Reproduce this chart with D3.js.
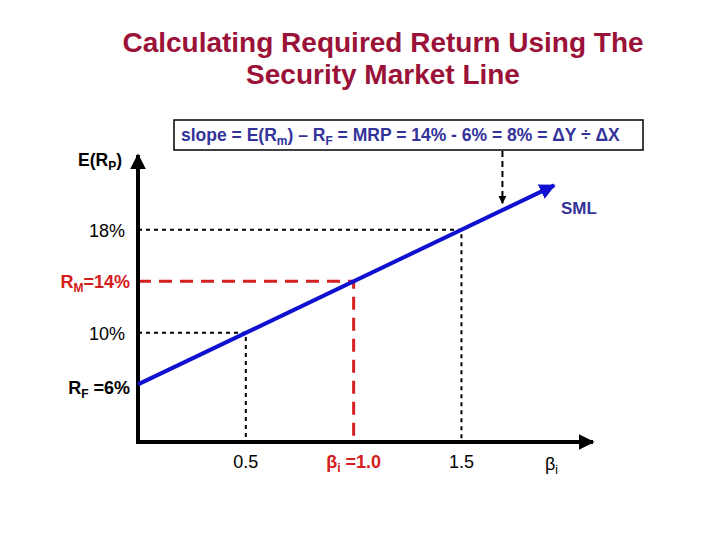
<!DOCTYPE html>
<html>
<head>
<meta charset="utf-8">
<script src="https://cdn.jsdelivr.net/npm/d3@7"></script>
<style>
  body { margin: 0; background: #fff; }
  svg { font-family: Arial, "Liberation Sans", sans-serif; }
</style>
</head>
<body>
<div id="chart"></div>
<script>
// chart values
const titleLines = ["Calculating Required Return Using The", "Security Market Line"];
const riskFree = 6;          // R_F
const marketReturn = 14;     // R_M
const marketPremium = 8;     // slope
const smlBetaRange = [0, 1.93];
const guideBetas = [0.5, 1.5];   // black dotted guides
const guideReturns = [10, 18];
const betaLabels = ["0.5", "1.5"];
const returnLabels = ["10%", "18%"];
const pointerBeta = 1.69;

const width = 720, height = 540;
const svg = d3.select("#chart").append("svg")
    .attr("width", width)
    .attr("height", height);

// scales
const x = d3.scaleLinear().domain([0, 2.11]).range([138, 593]);
const y = d3.scaleLinear().domain([1.53, 23.8]).range([442, 155]);
const sml = b => riskFree + marketPremium * b;

// markers
const defs = svg.append("defs");
function arrow(id, color) {
    defs.append("marker")
        .attr("id", id)
        .attr("viewBox", "0 0 10 10")
        .attr("refX", 9).attr("refY", 5)
        .attr("markerWidth", 4).attr("markerHeight", 4)
        .attr("markerUnits", "strokeWidth")
        .attr("orient", "auto")
        .append("path")
        .attr("d", "M0,0 L10,5 L0,10 z")
        .attr("fill", color);
}
arrow("blk", "#000");
arrow("blu", "#1010d0");
arrow("ptr", "#000");

// title
svg.append("g").selectAll("text")
    .data(titleLines)
    .join("text")
    .attr("x", 383)
    .attr("y", (d, i) => 52 + i * 32)
    .attr("text-anchor", "middle")
    .attr("font-size", 28)
    .attr("font-weight", "bold")
    .attr("fill", "#9b1238")
    .text(d => d);

// black dotted guides
guideBetas.forEach((b, i) => {
    const r = guideReturns[i];
    svg.append("path")
        .attr("d", `M${x(0)},${y(r)} H${x(b)} V${y.range()[0]}`)
        .attr("fill", "none")
        .attr("stroke", "#000")
        .attr("stroke-width", 2)
        .attr("stroke-dasharray", "4,4");
});

// red dashed guide for market portfolio
svg.append("path")
    .attr("d", `M${x(0)},${y(marketReturn)} H${x(1)} V${y.range()[0]}`)
    .attr("fill", "none")
    .attr("stroke", "#d42020")
    .attr("stroke-width", 3)
    .attr("stroke-dasharray", "13,8");

// axes
svg.append("line")
    .attr("x1", x(0)).attr("y1", y.range()[0] + 2)
    .attr("x2", x(0)).attr("y2", y.range()[1])
    .attr("stroke", "#000").attr("stroke-width", 4)
    .attr("marker-end", "url(#blk)");
svg.append("line")
    .attr("x1", x(0) - 2).attr("y1", y.range()[0])
    .attr("x2", x.range()[1]).attr("y2", y.range()[0])
    .attr("stroke", "#000").attr("stroke-width", 4)
    .attr("marker-end", "url(#blk)");

// SML line
svg.append("line")
    .attr("x1", x(smlBetaRange[0])).attr("y1", y(sml(smlBetaRange[0])))
    .attr("x2", x(smlBetaRange[1])).attr("y2", y(sml(smlBetaRange[1])))
    .attr("stroke", "#1010d0").attr("stroke-width", 4)
    .attr("marker-end", "url(#blu)");

// pointer from slope box
svg.append("line")
    .attr("x1", x(pointerBeta)).attr("y1", 151)
    .attr("x2", x(pointerBeta)).attr("y2", y(sml(pointerBeta)) - 7)
    .attr("stroke", "#000").attr("stroke-width", 2)
    .attr("stroke-dasharray", "6,4")
    .attr("marker-end", "url(#ptr)");

// slope box
svg.append("rect")
    .attr("x", 174).attr("y", 120)
    .attr("width", 469).attr("height", 30)
    .attr("fill", "#fff")
    .attr("stroke", "#000").attr("stroke-width", 1.5);
const slope = svg.append("text")
    .attr("x", 181).attr("y", 141)
    .attr("font-size", 17.5).attr("font-weight", "bold")
    .attr("fill", "#33339a");
slope.append("tspan").text("slope = E(R");
slope.append("tspan").attr("font-size", 12).attr("dy", 4).text("m");
slope.append("tspan").attr("dy", -4).text(") – R");
slope.append("tspan").attr("font-size", 12).attr("dy", 4).text("F");
slope.append("tspan").attr("dy", -4).text(" = MRP = 14% - 6% = 8% = ΔY ÷ ΔX");

// SML label
svg.append("text")
    .attr("x", 561).attr("y", 214)
    .attr("font-size", 17).attr("font-weight", "bold")
    .attr("fill", "#33339a")
    .text("SML");

// y labels
const yl = svg.append("text")
    .attr("x", 78).attr("y", 166)
    .attr("font-size", 17.5).attr("font-weight", "bold");
yl.append("tspan").text("E(R");
yl.append("tspan").attr("font-size", 12).attr("dy", 4).text("P");
yl.append("tspan").attr("dy", -4).text(")");

svg.append("g").selectAll("text")
    .data(guideReturns)
    .join("text")
    .attr("x", 125)
    .attr("y", d => y(d) + 7)
    .attr("text-anchor", "end")
    .attr("font-size", 18)
    .text((d, i) => returnLabels[i]);

const rmText = svg.append("text")
    .attr("x", 130).attr("y", y(marketReturn) + 7)
    .attr("text-anchor", "end")
    .attr("font-size", 18).attr("font-weight", "bold")
    .attr("fill", "#d42020");
rmText.append("tspan").text("R");
rmText.append("tspan").attr("font-size", 12).attr("dy", 4).text("M");
rmText.append("tspan").attr("dy", -4).text("=14%");

const rfText = svg.append("text")
    .attr("x", 130).attr("y", y(riskFree) + 10)
    .attr("text-anchor", "end")
    .attr("font-size", 18).attr("font-weight", "bold");
rfText.append("tspan").text("R");
rfText.append("tspan").attr("font-size", 12).attr("dy", 4).text("F");
rfText.append("tspan").attr("dy", -4).text(" =6%");

// x labels
svg.append("g").selectAll("text")
    .data(guideBetas)
    .join("text")
    .attr("x", d => x(d))
    .attr("y", 468)
    .attr("text-anchor", "middle")
    .attr("font-size", 18)
    .text((d, i) => betaLabels[i]);

const bText = svg.append("text")
    .attr("x", x(1)).attr("y", 468)
    .attr("text-anchor", "middle")
    .attr("font-size", 18).attr("font-weight", "bold")
    .attr("fill", "#d42020");
bText.append("tspan").text("β");
bText.append("tspan").attr("font-size", 12).attr("dy", 4).text("i");
bText.append("tspan").attr("dy", -4).text(" =1.0");

const bAxis = svg.append("text")
    .attr("x", 545).attr("y", 470)
    .attr("font-size", 18);
bAxis.append("tspan").text("β");
bAxis.append("tspan").attr("font-size", 12).attr("dy", 4).text("i");
</script>
</body>
</html>
